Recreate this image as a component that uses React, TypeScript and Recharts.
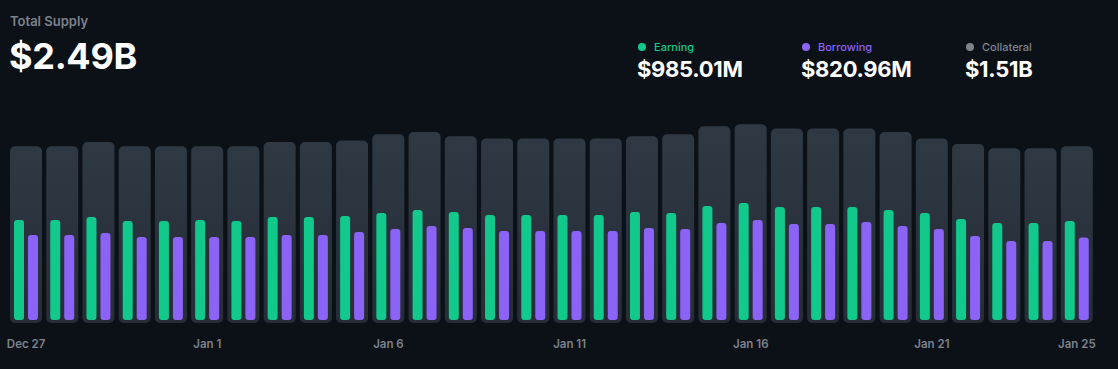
import React from 'react';
import { BarChart, Bar, XAxis, YAxis } from 'recharts';

const dates = [
  'Dec 27', 'Dec 28', 'Dec 29', 'Dec 30', 'Dec 31',
  'Jan 1', 'Jan 2', 'Jan 3', 'Jan 4', 'Jan 5',
  'Jan 6', 'Jan 7', 'Jan 8', 'Jan 9', 'Jan 10',
  'Jan 11', 'Jan 12', 'Jan 13', 'Jan 14', 'Jan 15',
  'Jan 16', 'Jan 17', 'Jan 18', 'Jan 19', 'Jan 20',
  'Jan 21', 'Jan 22', 'Jan 23', 'Jan 24', 'Jan 25',
];

// Total supply, $B
const totalSupply = [
  2.49, 2.49, 2.55, 2.49, 2.49, 2.49, 2.49, 2.55, 2.55, 2.57,
  2.66, 2.69, 2.63, 2.6, 2.6, 2.6, 2.6, 2.63, 2.66, 2.77,
  2.8, 2.74, 2.74, 2.74, 2.69, 2.6, 2.52, 2.46, 2.46, 2.49,
];

// Earning, $M
const earning = [
  995, 995, 1025, 985, 985, 995, 985, 1025, 1025, 1035,
  1065, 1095, 1075, 1045, 1045, 1045, 1045, 1075, 1065, 1134,
  1164, 1124, 1124, 1124, 1095, 1065, 1005, 965, 965, 985,
];

// Borrowing, $M
const borrowing = [
  846, 846, 866, 826, 826, 826, 826, 846, 846, 876,
  905, 935, 915, 886, 886, 886, 886, 915, 905, 965,
  995, 955, 955, 975, 935, 905, 836, 786, 786, 821,
];

const tickLabels = ['Dec 27', 'Jan 1', 'Jan 6', 'Jan 11', 'Jan 16', 'Jan 21', 'Jan 25'];

const summary = [
  { label: 'Earning', value: '$985.01M', color: '#10c98b' },
  { label: 'Borrowing', value: '$820.96M', color: '#8b63f7' },
  { label: 'Collateral', value: '$1.51B', color: '#7d848d' },
];

const data = dates.map((d, i) => ({
  date: d,
  total: totalSupply[i],
  earning: earning[i],
  borrowing: borrowing[i],
}));

const FONT = 'Inter, "Noto Sans", Arial, sans-serif';

export default function App() {
  return (
    <div
      style={{
        position: 'relative',
        width: 1118,
        height: 369,
        background: '#0c1017',
        fontFamily: FONT,
        overflow: 'hidden',
      }}
    >
      <style>{`body{margin:0;background:#0c1017;}`}</style>
      <div
        style={{
          position: 'absolute',
          left: 10,
          top: 13,
          color: '#7b838d',
          fontSize: 13,
          fontWeight: 600,
          lineHeight: '16px',
        }}
      >
        Total Supply
      </div>
      <div
        style={{
          position: 'absolute',
          left: 9,
          top: 35,
          color: '#ffffff',
          fontSize: 36,
          fontWeight: 700,
          lineHeight: '42px',
          letterSpacing: -0.3,
        }}
      >
        $2.49B
      </div>
      {summary.map((s, i) => (
        <div key={s.label} style={{ position: 'absolute', left: 637 + i * 164, top: 39 }}>
          <div style={{ display: 'flex', alignItems: 'center', height: 16 }}>
            <span
              style={{
                display: 'inline-block',
                width: 8,
                height: 8,
                borderRadius: 4,
                background: s.color,
                marginLeft: 1,
                marginRight: 8,
              }}
            />
            <span style={{ color: s.color, fontSize: 11, fontWeight: 500 }}>{s.label}</span>
          </div>
          <div
            style={{
              color: '#ffffff',
              fontSize: 22,
              fontWeight: 700,
              lineHeight: '26px',
              marginTop: 1,
              letterSpacing: -0.3,
            }}
          >
            {s.value}
          </div>
        </div>
      ))}
      <div style={{ position: 'absolute', left: 0, top: 100 }}>
        <BarChart
          width={1118}
          height={269}
          data={data}
          margin={{ top: 10, right: 23, bottom: 16, left: 8 }}
          barGap={4}
        >
          <defs>
            <linearGradient id="bgGrad" x1="0" y1="0" x2="0" y2="1">
              <stop offset="0%" stopColor="#2e3944" />
              <stop offset="100%" stopColor="#262d36" />
            </linearGradient>
          </defs>
          <XAxis
            xAxisId="main"
            dataKey="date"
            height={30}
            axisLine={false}
            tickLine={false}
            tickSize={0}
            tickMargin={17}
            interval={0}
            tickFormatter={(v: string) => (tickLabels.includes(v) ? v : '')}
            tick={{ fill: '#7b838d', fontSize: 11.5, fontWeight: 600, fontFamily: FONT }}
          />
          <XAxis xAxisId="bg" dataKey="date" hide height={0} />
          <YAxis yAxisId="bg" hide domain={[0, 3]} allowDataOverflow />
          <YAxis yAxisId="inner" hide domain={[-30, 2090]} allowDataOverflow />
          <Bar
            xAxisId="bg"
            yAxisId="bg"
            dataKey="total"
            barSize={32}
            fill="url(#bgGrad)"
            radius={5}
            isAnimationActive={false}
          />
          <Bar
            xAxisId="main"
            yAxisId="inner"
            dataKey="earning"
            barSize={10}
            fill="#10c98b"
            radius={3}
            isAnimationActive={false}
          />
          <Bar
            xAxisId="main"
            yAxisId="inner"
            dataKey="borrowing"
            barSize={10}
            fill="#8b63f7"
            radius={3}
            isAnimationActive={false}
          />
        </BarChart>
      </div>
    </div>
  );
}
